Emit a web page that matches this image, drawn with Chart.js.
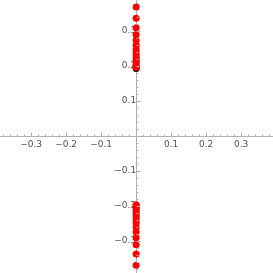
<!DOCTYPE html>
<html>
<head>
<meta charset="utf-8">
<script src="https://cdn.jsdelivr.net/npm/chart.js@4"></script>
<style>
  html, body { margin: 0; padding: 0; background: #fff; }
  #wrap { width: 273px; height: 273px; }
</style>
</head>
<body>
<div id="wrap"><canvas id="chart"></canvas></div>
<script>
const upperValues = [0.369, 0.337, 0.31, 0.29, 0.274, 0.26, 0.249, 0.24, 0.232, 0.225, 0.219, 0.213, 0.208, 0.203, 0.199, 0.196];
const lowerValues = [-0.196, -0.199, -0.203, -0.208, -0.213, -0.219, -0.225, -0.232, -0.24, -0.249, -0.26, -0.274, -0.29, -0.31, -0.337, -0.369];
const startValue = [0.193];
const tickLabels = [-0.3, -0.2, -0.1, 0.1, 0.2, 0.3];

const AXIS_COLOR = "#b0b0b0";
const LABEL_COLOR = "#555555";

const toPoints = (vals) => vals.map((v) => ({ x: 0, y: v }));

// Mathematica style ticks: major every 0.1, minor every 0.02
const axisTicks = {
	id: "axisTicks",
	afterDatasetsDraw(chart) {
		const { ctx, scales } = chart;
		const xs = scales.x;
		const ys = scales.y;
		const x0 = xs.getPixelForValue(0);
		const y0 = ys.getPixelForValue(0);
		ctx.save();
		ctx.strokeStyle = AXIS_COLOR;
		ctx.lineWidth = 1;
		for (let i = -19; i <= 19; i++) {
			if (i === 0) continue;
			const v = i * 0.02;
			const len = i % 5 === 0 ? 4 : 2;
			const px = Math.round(xs.getPixelForValue(v)) + 0.5;
			ctx.beginPath();
			ctx.moveTo(px, Math.round(y0) + 0.5);
			ctx.lineTo(px, Math.round(y0) + 0.5 - len);
			ctx.stroke();
			const py = Math.round(ys.getPixelForValue(v)) + 0.5;
			ctx.beginPath();
			ctx.moveTo(Math.round(x0) + 0.5, py);
			ctx.lineTo(Math.round(x0) + 0.5 + len, py);
			ctx.stroke();
		}
		ctx.restore();
	},
};

const pointSet = (vals, color) => ({
	data: toPoints(vals),
	backgroundColor: color,
	borderWidth: 0,
	pointRadius: 3.5,
	pointHoverRadius: 3.5,
	pointHitRadius: 0,
	clip: false,
});

// no label overhang padding, the axes sit inside the plot
const noPadding = (axis) => {
	axis.paddingTop = 0;
	axis.paddingBottom = 0;
	axis.paddingLeft = 0;
	axis.paddingRight = 0;
};

const tickText = (v) => (v < 0 ? "\u2212" + Math.abs(v).toFixed(1) : v.toFixed(1));

new Chart(document.getElementById("chart"), {
	type: "scatter",
	data: {
		datasets: [
			pointSet(upperValues, "#ff0000"),
			pointSet(lowerValues, "#ff0000"),
			pointSet(startValue, "#000000"),
		],
	},
	options: {
		animation: false,
		responsive: true,
		maintainAspectRatio: false,
		layout: { padding: 0, autoPadding: false },
		plugins: {
			legend: { display: false },
			tooltip: { enabled: false },
		},
		scales: {
			x: {
				type: "linear",
				position: { y: 0 },
				min: -0.389,
				max: 0.391,
				afterBuildTicks: (axis) => {
					axis.ticks = tickLabels.map((v) => ({ value: v }));
				},
				afterFit: noPadding,
				grid: { display: false, drawTicks: false },
				border: { display: true, color: AXIS_COLOR, width: 1 },
				ticks: {
					color: LABEL_COLOR,
					font: { family: "DejaVu Sans", size: 9 },
					padding: 3,
					maxRotation: 0,
					callback: tickText,
				},
			},
			y: {
				type: "linear",
				position: { x: 0 },
				min: -0.391,
				max: 0.389,
				afterBuildTicks: (axis) => {
					axis.ticks = tickLabels.map((v) => ({ value: v }));
				},
				afterFit: noPadding,
				grid: { display: false, drawTicks: false },
				border: { display: true, color: AXIS_COLOR, width: 1 },
				ticks: {
					color: LABEL_COLOR,
					font: { family: "DejaVu Sans", size: 9 },
					padding: 3,
					callback: tickText,
				},
			},
		},
	},
	plugins: [axisTicks],
});
</script>
</body>
</html>
